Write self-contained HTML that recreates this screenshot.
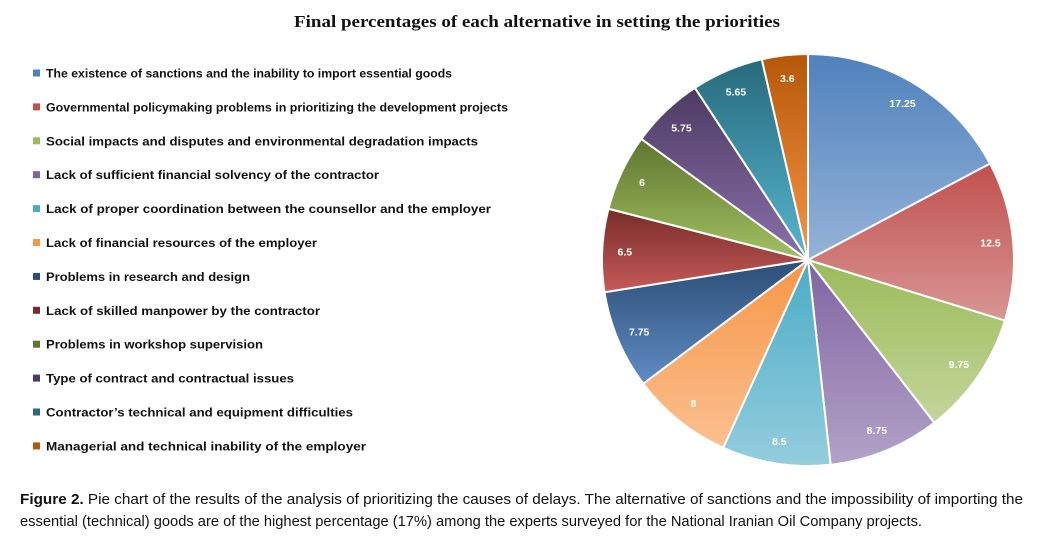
<!DOCTYPE html>
<html><head><meta charset="utf-8"><style>
html,body{margin:0;padding:0;background:#fff;}
svg{display:block;}
</style></head><body>
<svg id="s" width="1049" height="543" viewBox="0 0 1049 543" xmlns="http://www.w3.org/2000/svg">
<defs id="d"></defs>
<text x="537" y="27" text-anchor="middle" font-family="Liberation Serif, serif" font-weight="bold" font-size="16.5" fill="#111" textLength="486" lengthAdjust="spacingAndGlyphs">Final percentages of each alternative in setting the priorities</text>
<g id="leg" font-family="Liberation Sans, sans-serif" font-weight="bold" font-size="12" fill="#111"></g>
<g id="pie"></g>
<g font-family="Liberation Sans, sans-serif" font-size="15" fill="#111">
<text x="20" y="504" textLength="1003" lengthAdjust="spacingAndGlyphs"><tspan font-weight="bold">Figure 2.</tspan> Pie chart of the results of the analysis of prioritizing the causes of delays. The alternative of sanctions and the impossibility of importing the</text>
<text x="20" y="526" textLength="902" lengthAdjust="spacingAndGlyphs">essential (technical) goods are of the highest percentage (17%) among the experts surveyed for the National Iranian Oil Company projects.</text>
</g>
</svg>
<script>
var vals=[17.25,12.5,9.75,8.75,8.5,8,7.75,6.5,6,5.75,5.65,3.6];
var cols=[["#4f81bd","#95b3d7"],["#c0504d","#d99694"],["#9bbb59","#c3d69b"],["#8064a2","#b3a2c7"],["#4bacc6","#93cddd"],["#f79646","#fac090"],
["#2c4d75","#5f8cc4"],["#772c2a","#c65a57"],["#5f7530","#a2c161"],["#4d3b62","#8a70ab"],["#276a7c","#56b6cf"],["#b65708","#f79646"]];
var names=["The existence of sanctions and the inability to import essential goods","Governmental policymaking problems in prioritizing the development projects","Social impacts and disputes and environmental degradation impacts","Lack of sufficient financial solvency of the contractor","Lack of proper coordination between the counsellor and the employer","Lack of financial resources of the employer","Problems in research and design","Lack of skilled manpower by the contractor","Problems in workshop supervision","Type of contract and contractual issues","Contractor\u2019s technical and equipment difficulties","Managerial and technical inability of the employer"];
var ends=[452,508,478,379,491,317,250,320,263,294,353,366];
var ns="http://www.w3.org/2000/svg";
var d=document.getElementById("d"),pie=document.getElementById("pie"),leg=document.getElementById("leg");
var cx=808,cy=260,r=206,cum=0;
function el(t,a,p){var e=document.createElementNS(ns,t);for(var k in a)e.setAttribute(k,a[k]);p.appendChild(e);return e;}
for(var i=0;i<12;i++){
 var g=el("linearGradient",{id:"g"+i,x1:0,y1:0,x2:0,y2:1},d);
 el("stop",{offset:0,"stop-color":cols[i][0]},g);el("stop",{offset:1,"stop-color":cols[i][1]},g);
 var a0=cum/100*2*Math.PI,a1=(cum+vals[i])/100*2*Math.PI,am=(a0+a1)/2;cum+=vals[i];
 var x0=cx+r*Math.sin(a0),y0=cy-r*Math.cos(a0),x1=cx+r*Math.sin(a1),y1=cy-r*Math.cos(a1);
 el("path",{d:"M"+cx+","+cy+"L"+x0+","+y0+"A"+r+","+r+" 0 "+((a1-a0)>Math.PI?1:0)+" 1 "+x1+","+y1+"Z",fill:"url(#g"+i+")",stroke:"#fff","stroke-width":2,"stroke-linejoin":"round"},pie);
 var lr=r*0.89;
 var t=el("text",{x:cx+lr*Math.sin(am),y:cy-lr*Math.cos(am)+4,"text-anchor":"middle","font-family":"Liberation Sans, sans-serif","font-weight":"bold","font-size":"10.5",fill:"#fff"},pie);
 t.textContent=String(vals[i]);
 var y=73+i*33.9;
 el("rect",{x:33,y:y-3.5,width:7,height:7,fill:cols[i][0]},leg);
 var lt=el("text",{x:46,y:y+4.5,textLength:ends[i]-46,lengthAdjust:"spacingAndGlyphs"},leg);
 lt.textContent=names[i];
}
</script>
</body></html>
